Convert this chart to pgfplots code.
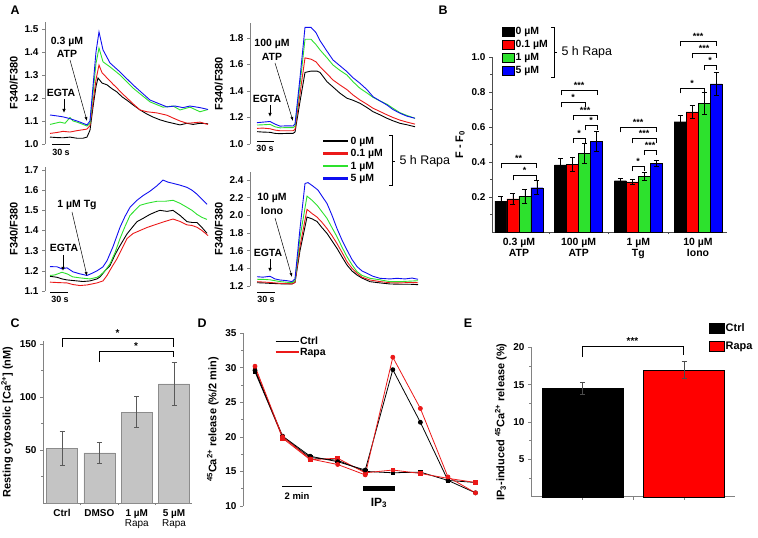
\documentclass[border=0pt]{standalone}
\usepackage{pgfplots}
\pgfplotsset{compat=1.18}
\usetikzlibrary{arrows.meta}
\usepackage{fontspec}
\setmainfont{Liberation Sans}
\definecolor{cred}{RGB}{235,25,25}
\definecolor{cgreen}{RGB}{45,225,45}
\definecolor{cblue}{RGB}{15,15,240}
\definecolor{axgray}{RGB}{130,130,130}
\definecolor{barC}{RGB}{196,196,196}
\definecolor{barCedge}{RGB}{140,140,140}
\newcommand{\fs}[1]{\fontsize{#1}{#1}\selectfont}
\newcommand{\sig}[4]{\draw[line width=0.8pt] (#1,#3+5) -- (#1,#3) -- (#2,#3) -- (#2,#3+5);
  \node[anchor=base, inner sep=0pt, font=\bfseries\fs{9}] at ({(#1+#2)/2},#3-1.5) {#4};}
\pgfplotsset{
  base/.style={scale only axis, anchor=south west, clip=false,
    axis line style={axgray, line width=0.6pt},
    every tick/.style={axgray, line width=0.6pt},
    tick align=outside, major tick length=3bp, minor tick length=2bp,
    tick label style={font=\bfseries\fs{10}},
    label style={font=\bfseries\fs{11}},
    /pgf/number format/assume math mode=true},
  pA/.style={base, axis x line=none, axis y line*=left,
    yticklabel style={/pgf/number format/.cd, fixed, fixed zerofill, precision=1},
    ylabel={F340/F380}},
  tr/.style={line width=0.9pt, no markers},
  barleg/.style={legend image code/.code={\draw[##1] (0bp,-4.5bp) rectangle (12bp,4.5bp);}},
  barlegE/.style={legend image code/.code={\draw[##1] (0bp,-5bp) rectangle (15bp,5bp);}},
  lineleg/.style={legend image code/.code={\draw[##1, line width=2.5bp] (0bp,0bp) -- (25bp,0bp);}},
  linelegD/.style={legend image code/.code={\draw[##1, line width=1.8bp] (0bp,0bp) -- (23bp,0bp);}},
  bbar/.style={ybar, bar width=12bp, bar shift=0bp, draw=black, barleg,
    error bars/.cd, y dir=both, y explicit, error bar style={black, line width=0.7pt},
    error mark options={rotate=90, black, line width=0.7pt, mark size=2.5bp}},
}
\begin{document}
\bfseries
\begin{tikzpicture}[x=1bp, y=-1bp]
\useasboundingbox (0,0) rectangle (758,538);

% ---------------- A1
\begin{axis}[pA, at={(45bp,-144bp)}, width=170bp, height=122bp, xmin=45, xmax=215, ymin=1.0, ymax=1.53,
  ytick={1.0,1.1,1.2,1.3,1.4,1.5}]
\addplot[tr, black] coordinates {(50,1.030) (57,1.028) (63,1.027) (70,1.030) (77,1.025) (83,1.025) (87,1.030) (90,1.060) (93,1.160) (96,1.250) (98,1.287) (102,1.265) (107,1.257) (112,1.240) (117,1.226) (122,1.205) (127,1.190) (133,1.170) (140,1.148) (147,1.130) (153,1.117) (160,1.105) (167,1.096) (173,1.090) (180,1.083) (187,1.090) (193,1.085) (200,1.090) (208,1.088)};
\addplot[tr, cred] coordinates {(50,1.046) (57,1.050) (63,1.055) (70,1.052) (77,1.058) (83,1.062) (87,1.065) (90,1.080) (93,1.180) (96,1.280) (99,1.343) (102,1.310) (107,1.287) (113,1.260) (117,1.243) (122,1.220) (127,1.200) (133,1.175) (140,1.148) (147,1.140) (157,1.135) (167,1.125) (173,1.113) (180,1.100) (187,1.090) (193,1.092) (200,1.095) (208,1.085)};
\addplot[tr, cgreen] coordinates {(50,1.085) (55,1.090) (60,1.095) (65,1.090) (70,1.115) (73,1.100) (77,1.095) (83,1.085) (87,1.078) (90,1.090) (93,1.220) (96,1.350) (99,1.417) (103,1.357) (110,1.335) (120,1.300) (133,1.243) (150,1.183) (163,1.160) (173,1.165) (180,1.148) (190,1.160) (200,1.140) (208,1.150)};
\addplot[tr, cblue] coordinates {(50,1.126) (57,1.122) (63,1.118) (70,1.110) (77,1.100) (83,1.090) (87,1.083) (90,1.100) (93,1.250) (96,1.400) (99,1.487) (103,1.409) (110,1.352) (120,1.313) (133,1.257) (150,1.191) (167,1.161) (175,1.165) (183,1.158) (190,1.165) (200,1.158) (208,1.150)};
\end{axis}

% ---------------- A2
\begin{axis}[pA, at={(250bp,-144bp)}, width=170bp, height=121bp, xmin=250, xmax=420, ymin=1.0, ymax=1.913,
  ytick={1.0,1.2,1.4,1.6,1.8},
  legend style={at={(0.4235,0.0744)}, anchor=north west, draw=none, fill=none, font=\bfseries\fs{10.5},
    inner sep=0pt, row sep=0.5bp, nodes={inner sep=1bp, text height=8bp, text depth=2bp}},
  legend cell align=left]
\addplot[tr, black, lineleg] coordinates {(257,1.093) (263,1.090) (270,1.088) (275,1.080) (280,1.078) (287,1.080) (293,1.080) (295,1.090) (300,1.320) (305,1.540) (311,1.550) (317,1.550) (320,1.540) (327,1.470) (333,1.430) (340,1.383) (347,1.345) (353,1.330) (360,1.307) (367,1.275) (373,1.244) (380,1.220) (387,1.194) (393,1.175) (400,1.156) (407,1.145) (415,1.130)};
\addlegendentry{0 µM}
\addplot[tr, cred, lineleg] coordinates {(257,1.118) (263,1.120) (270,1.115) (275,1.105) (280,1.100) (287,1.100) (293,1.100) (295,1.110) (300,1.380) (305,1.650) (311,1.640) (316,1.620) (320,1.583) (327,1.530) (333,1.483) (340,1.445) (347,1.410) (353,1.370) (360,1.332) (367,1.300) (373,1.270) (380,1.245) (387,1.220) (393,1.200) (400,1.180) (407,1.165) (415,1.150)};
\addlegendentry{0.1 µM}
\addplot[tr, cgreen, lineleg] coordinates {(257,1.143) (263,1.145) (270,1.148) (275,1.130) (280,1.122) (287,1.124) (293,1.123) (295,1.135) (300,1.450) (305,1.790) (311,1.790) (316,1.750) (320,1.710) (327,1.650) (333,1.596) (340,1.555) (347,1.520) (353,1.470) (360,1.420) (367,1.385) (373,1.352) (380,1.325) (387,1.300) (393,1.270) (400,1.236) (407,1.215) (415,1.194)};
\addlegendentry{1 µM}
\addplot[tr, cblue, lineleg] coordinates {(257,1.161) (263,1.165) (270,1.170) (275,1.150) (280,1.135) (287,1.137) (293,1.136) (295,1.150) (300,1.500) (305,1.880) (311,1.880) (316,1.840) (320,1.780) (327,1.700) (333,1.634) (340,1.590) (347,1.546) (353,1.500) (360,1.458) (367,1.410) (373,1.357) (380,1.325) (387,1.294) (393,1.260) (400,1.232) (407,1.210) (415,1.194)};
\addlegendentry{5 µM}
\end{axis}

% ---------------- A3
\begin{axis}[pA, at={(45bp,-291bp)}, width=170bp, height=124bp, xmin=45, xmax=215, ymin=1.1, ymax=1.715,
  ytick={1.1,1.2,1.3,1.4,1.5,1.6,1.7}]
\addplot[tr, black] coordinates {(50,1.173) (57,1.168) (62,1.160) (67,1.155) (73,1.152) (83,1.147) (90,1.150) (97,1.160) (100,1.170) (105,1.200) (110,1.226) (115,1.280) (120,1.325) (127,1.383) (133,1.420) (137,1.444) (143,1.460) (150,1.480) (157,1.495) (160,1.500) (167,1.495) (173,1.500) (180,1.475) (187,1.444) (192,1.440) (197,1.440) (202,1.415) (207,1.386)};
\addplot[tr, cred] coordinates {(50,1.144) (57,1.142) (67,1.140) (73,1.132) (80,1.127) (87,1.130) (97,1.140) (103,1.150) (107,1.177) (112,1.220) (117,1.260) (122,1.310) (127,1.360) (133,1.385) (140,1.400) (147,1.415) (157,1.432) (165,1.445) (173,1.457) (180,1.445) (187,1.428) (192,1.425) (197,1.416) (202,1.400) (208,1.375)};
\addplot[tr, cgreen] coordinates {(50,1.177) (55,1.180) (62,1.193) (67,1.185) (73,1.170) (80,1.165) (90,1.160) (97,1.168) (100,1.177) (105,1.200) (110,1.235) (115,1.290) (120,1.360) (125,1.420) (130,1.475) (135,1.500) (140,1.525) (147,1.535) (157,1.545) (165,1.545) (173,1.550) (180,1.535) (187,1.515) (192,1.500) (197,1.480) (202,1.465) (207,1.455)};
\addplot[tr, cblue] coordinates {(50,1.221) (57,1.220) (62,1.210) (67,1.215) (73,1.195) (80,1.185) (87,1.177) (93,1.190) (97,1.200) (103,1.220) (107,1.250) (113,1.320) (120,1.416) (125,1.470) (130,1.515) (137,1.550) (143,1.573) (150,1.595) (157,1.622) (163,1.650) (168,1.640) (173,1.634) (180,1.625) (187,1.614) (192,1.600) (197,1.580) (202,1.555) (207,1.530)};
\end{axis}

% ---------------- A4
\begin{axis}[pA, at={(250bp,-286bp)}, width=170bp, height=114bp, xmin=250, xmax=420, ymin=1.2, ymax=2.49,
  ytick={1.2,1.4,1.6,1.8,2.0,2.2,2.4}]
\addplot[tr, black] coordinates {(257,1.237) (263,1.235) (270,1.230) (280,1.225) (292,1.223) (295,1.240) (300,1.600) (307,1.980) (312,1.960) (317,1.930) (322,1.860) (327,1.795) (332,1.710) (337,1.626) (342,1.530) (347,1.437) (352,1.370) (357,1.324) (362,1.290) (370,1.249) (380,1.235) (390,1.223) (400,1.220) (410,1.220) (418,1.215)};
\addplot[tr, cred] coordinates {(257,1.249) (263,1.245) (270,1.240) (280,1.230) (292,1.223) (295,1.240) (300,1.650) (307,2.067) (312,2.020) (317,1.980) (322,1.920) (327,1.850) (332,1.770) (337,1.680) (342,1.580) (347,1.475) (352,1.400) (357,1.344) (362,1.300) (370,1.268) (380,1.250) (390,1.237) (400,1.235) (410,1.240) (418,1.237)};
\addplot[tr, cgreen] coordinates {(257,1.276) (263,1.275) (270,1.270) (280,1.250) (292,1.237) (295,1.260) (300,1.750) (307,2.217) (312,2.170) (317,2.115) (322,2.040) (327,1.965) (332,1.860) (337,1.757) (342,1.640) (347,1.531) (352,1.440) (357,1.362) (362,1.320) (370,1.287) (380,1.270) (390,1.249) (400,1.250) (410,1.255) (418,1.260)};
\addplot[tr, cblue] coordinates {(257,1.305) (263,1.300) (270,1.310) (275,1.280) (280,1.268) (287,1.260) (292,1.250) (295,1.280) (300,1.850) (305,2.360) (308,2.370) (313,2.330) (318,2.285) (323,2.200) (327,2.134) (332,2.000) (337,1.850) (342,1.720) (347,1.607) (352,1.500) (357,1.420) (362,1.370) (367,1.344) (373,1.310) (380,1.287) (390,1.280) (397,1.287) (405,1.280) (412,1.290) (418,1.276)};
\end{axis}

% ---------------- B
\begin{axis}[base, at={(492bp,-232bp)}, width=235bp, height=175bp,
  xmin=-0.452, xmax=3.486, ymin=0, ymax=1.0,
  axis lines*=left, axis line style={black!70}, every tick/.style={black!70, line width=0.6pt},
  ytick={0.2,0.4,0.6,0.8,1.0}, minor ytick={0.1,0.3,0.5,0.7,0.9},
  yticklabel style={/pgf/number format/.cd, fixed, fixed zerofill, precision=1},
  xtick={0,1,2,3}, minor xtick={0.5,1.5,2.5}, every major x tick/.style={draw=none},
  xticklabels={{0.3 µM\\ATP},{100 µM\\ATP},{1 µM\\Tg},{10 µM\\Iono}},
  xticklabel style={align=center, font=\bfseries\fs{10.5}},
  ylabel={F - F\textsubscript{0}},
  legend style={at={(0.0426,1.18)}, anchor=north west, draw=none, fill=none, font=\bfseries\fs{10.5},
    inner sep=0pt, row sep=1bp, nodes={inner sep=1bp, text height=8bp, text depth=2bp}},
  legend cell align=left]
\addplot[fill=black, bbar]
  coordinates {(-0.3016,0.177) +- (0,0.028) (0.6984,0.384) +- (0,0.038) (1.6984,0.293) +- (0,0.014) (2.6984,0.630) +- (0,0.037)};
\addlegendentry{0 µM}
\addplot[fill=red, bbar]
  coordinates {(-0.1005,0.190) +- (0,0.030) (0.8995,0.387) +- (0,0.042) (1.8995,0.286) +- (0,0.015) (2.8995,0.686) +- (0,0.038)};
\addlegendentry{0.1 µM}
\addplot[fill=cgreen, bbar]
  coordinates {(0.1005,0.205) +- (0,0.039) (1.1005,0.450) +- (0,0.057) (2.1005,0.318) +- (0,0.021) (3.1005,0.735) +- (0,0.061)};
\addlegendentry{1 µM}
\addplot[fill=blue, bbar]
  coordinates {(0.3016,0.253) +- (0,0.040) (1.3016,0.518) +- (0,0.057) (2.3016,0.392) +- (0,0.019) (3.3016,0.847) +- (0,0.067)};
\addlegendentry{5 µM}
\end{axis}

% ---------------- C
\begin{axis}[base, at={(43bp,-503bp)}, width=149bp, height=162bp,
  xmin=-0.51, xmax=3.48, ymin=0, ymax=152.8, axis lines*=left,
  ytick={50,100,150}, minor ytick={25,75,125},
  xtick={0,1,2,3}, minor xtick={0.5,1.5,2.5}, every major x tick/.style={draw=none},
  xticklabels={Ctrl, DMSO, {1 µM\\\mdseries Rapa}, {5 µM\\\mdseries Rapa}},
  xticklabel style={align=center, font=\bfseries\fs{10}},
  ylabel={Resting cytosolic [Ca\textsuperscript{2+}] (nM)}]
\addplot[ybar, bar width=31bp, bar shift=0bp, fill=barC, draw=barCedge,
  error bars/.cd, y dir=both, y explicit, error bar style={black!65, line width=0.6pt},
  error mark options={rotate=90, black!65, line width=0.6pt, mark size=2.5bp}]
  coordinates {(0,51.6) +- (0,16.5) (1,47.2) +- (0,10.0) (2,85.8) +- (0,14.7) (3,112.3) +- (0,20.6)};
\end{axis}

% ---------------- D
\begin{axis}[base, at={(243bp,-506bp)}, width=238bp, height=173bp,
  xmin=-0.435, xmax=8.2, ymin=10, ymax=35, axis x line=none, axis y line*=left,
  ytick={10,15,20,25,30,35}, minor ytick={12.5,17.5,22.5,27.5,32.5},
  ylabel={\textsuperscript{45}Ca\textsuperscript{2+} release (\%/2 min)},
  legend style={at={(0.132,0.984)}, anchor=north west, draw=none, fill=none, font=\bfseries\fs{10.5},
    inner sep=0pt, row sep=0bp, nodes={inner sep=0.7bp, text height=7.5bp, text depth=2bp}},
  legend cell align=left]
\addplot[black, line width=0.8pt, mark=square*, mark size=1.8bp, forget plot] coordinates {(0,29.4) (1,20.0) (2,17.0) (3,16.6) (4,15.0) (5,14.8) (6,14.9) (7,13.7) (8,13.4)};
\addplot[cred, line width=0.8pt, mark=square*, mark size=1.8bp, forget plot] coordinates {(0,29.9) (1,19.8) (2,16.7) (3,16.9) (4,14.8) (5,15.2) (6,14.7) (7,14.0) (8,13.4)};
\addplot[black, line width=0.8pt, mark=*, mark size=2bp, linelegD] coordinates {(0,29.6) (1,20.1) (2,17.2) (3,16.4) (4,15.2) (5,29.7) (6,22.1) (7,13.7) (8,11.9)};
\addlegendentry{Ctrl}
\addplot[cred, line width=0.8pt, mark=*, mark size=2bp, linelegD] coordinates {(0,30.2) (1,20.0) (2,16.8) (3,16.0) (4,14.5) (5,31.5) (6,24.1) (7,14.2) (8,11.9)};
\addlegendentry{Rapa}
\end{axis}

% ---------------- E
\begin{axis}[base, at={(531bp,-496.7bp)}, width=204bp, height=149.4bp,
  xmin=-0.507, xmax=1.502, ymin=0, ymax=20, axis lines*=left,
  ytick={5,10,15,20}, minor ytick={2.5,7.5,12.5,17.5},
  xtick={0,0.5,1}, xticklabels={},
  ylabel={IP\textsubscript{3}-induced \textsuperscript{45}Ca\textsuperscript{2+} release (\%)},
  legend style={at={(0.873,1.169)}, anchor=north west, draw=none, fill=none, font=\bfseries\fs{11},
    inner sep=0pt, row sep=6bp, nodes={inner sep=1bp, text height=8bp, text depth=2bp}},
  legend cell align=left]
\addplot[ybar, bar width=81bp, bar shift=0bp, fill=black, draw=black, barlegE,
  error bars/.cd, y dir=both, y explicit, error bar style={black!70, line width=0.7pt},
  error mark options={rotate=90, black!70, line width=0.7pt, mark size=2.5bp}]
  coordinates {(0,14.53) +- (0,0.8)};
\addlegendentry{Ctrl}
\addplot[ybar, bar width=81bp, bar shift=0bp, fill=red, draw=black, barlegE,
  error bars/.cd, y dir=both, y explicit, error bar style={black!70, line width=0.7pt},
  error mark options={rotate=90, black!70, line width=0.7pt, mark size=2.5bp}]
  coordinates {(1,16.98) +- (0,1.1)};
\addlegendentry{Rapa}
\end{axis}

% ---------------- annotations
\begin{scope}[font=\bfseries\fs{10.5}]
% panel letters
\node[font=\bfseries\fs{12.5}] at (15,10) {A};
\node[font=\bfseries\fs{12.5}] at (443,10) {B};
\node[font=\bfseries\fs{12.5}] at (15,323) {C};
\node[font=\bfseries\fs{12.5}] at (202,323) {D};
\node[font=\bfseries\fs{12.5}] at (468,323) {E};
% A1
\node at (67,42) {0.3 µM};
\node at (67,54) {ATP};
\draw[-{Latex[length=4bp,width=3bp]}, line width=0.5pt] (70,60) -- (87,121);
\node at (61,93) {EGTA};
\draw[-{Latex[length=4bp,width=3.5bp]}, line width=0.8pt] (64,99) -- (64,113);
\draw[line width=1pt] (52,145) -- (70,145);
\node[font=\bfseries\fs{9}] at (61,152) {30 s};
% A2
\node at (272,44) {100 µM};
\node at (272,57) {ATP};
\draw[-{Latex[length=4bp,width=3bp]}, line width=0.5pt] (275,63) -- (293,121);
\node at (267,99) {EGTA};
\draw[-{Latex[length=4bp,width=3.5bp]}, line width=0.8pt] (270,105) -- (270,117);
\draw[line width=1pt] (257,142) -- (274,142);
\node[font=\bfseries\fs{9}] at (265,148) {30 s};
% A legend bracket
\draw[line width=0.9pt] (389,135) -- (392,135) -- (392,185) -- (389,185);
\draw[line width=0.9pt] (392,161) -- (395,161);
\node[anchor=west, font=\mdseries\fs{12.5}] at (396,161) {5 h Rapa};
% A3
\node at (77,205) {1 µM Tg};
\draw[-{Latex[length=4bp,width=3bp]}, line width=0.5pt] (72,212) -- (87,276);
\node at (64,248) {EGTA};
\draw[-{Latex[length=4bp,width=3.5bp]}, line width=0.8pt] (63,255) -- (63,271);
\draw[line width=1pt] (50,292) -- (68,292);
\node[font=\bfseries\fs{9}] at (60,299) {30 s};
% A4
\node at (272,198) {10 µM};
\node at (272,211) {Iono};
\draw[-{Latex[length=4bp,width=3bp]}, line width=0.5pt] (275,218) -- (292,277);
\node at (268,253) {EGTA};
\draw[-{Latex[length=4bp,width=3.5bp]}, line width=0.8pt] (270,259) -- (270,272);
\draw[line width=1pt] (257,292) -- (275,292);
\node[font=\bfseries\fs{9}] at (266,299) {30 s};
% B legend bracket
\draw[line width=0.9pt] (551,27) -- (554,27) -- (554,77) -- (551,77);
\draw[line width=0.9pt] (554,52) -- (557,52);
\node[anchor=west, font=\mdseries\fs{12.5}] at (558,52) {5 h Rapa};
% B significance
\sig{501}{536}{163.5}{**}
\sig{513}{536}{175.5}{*}
\sig{561}{597}{90.5}{***}
\sig{561}{585}{102.5}{*}
\sig{573}{597}{115}{***}
\sig{585}{597}{125.5}{*}
\sig{573}{585}{138}{*}
\sig{620}{656}{127.5}{***}
\sig{632}{656}{138.5}{***}
\sig{644}{656}{150}{***}
\sig{632}{644}{166.5}{*}
\sig{680}{716}{41.5}{***}
\sig{692}{716}{53.5}{***}
\sig{704}{716}{65}{*}
\sig{680}{704}{88.5}{*}
% C brackets
\draw[line width=0.8pt] (62,347) -- (62,338) -- (173,338) -- (173,347);
\node[anchor=base, inner sep=0pt, font=\bfseries\fs{10}] at (117.5,336.5) {*};
\draw[line width=0.8pt] (99,362) -- (99,351) -- (173,351) -- (173,357);
\node[anchor=base, inner sep=0pt, font=\bfseries\fs{10}] at (136,349.5) {*};
% D scale bars
\draw[line width=0.8pt] (282,486) -- (312,486);
\node[font=\bfseries\fs{9.5}] at (297,496) {2 min};
\fill (363,485.5) rectangle (395,491);
\node[font=\bfseries\fs{12}] at (379,503) {IP\textsubscript{3}};
% E bracket
\draw[line width=0.8pt] (582,357) -- (582,346) -- (683,346) -- (683,355);
\node[anchor=base, inner sep=0pt, font=\bfseries\fs{10}] at (632.5,344.5) {***};
\end{scope}
\end{tikzpicture}
\end{document}
